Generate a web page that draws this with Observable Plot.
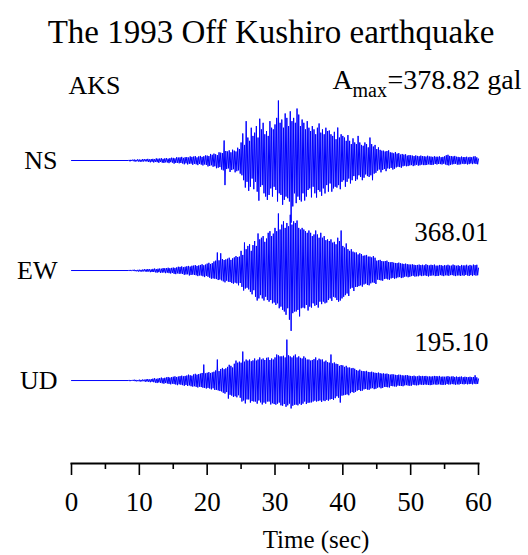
<!DOCTYPE html>
<html>
<head>
<meta charset="utf-8">
<script src="https://cdn.jsdelivr.net/npm/d3@7"></script>
<script src="https://cdn.jsdelivr.net/npm/@observablehq/plot@0.6"></script>
<style>
  html, body { margin: 0; padding: 0; background: #fff; }
  #chart svg { display: block; font-family: 'Liberation Serif', 'Times New Roman', serif; }
</style>
</head>
<body>
<div id="chart"></div>
<script>
// ---- data (accelerations in gal) ----
const title = "The 1993 Off Kushiro earthquake";
const station = "AKS";
const channelNames = ["NS", "EW", "UD"];
const peakLabels = ["378.82", "368.01", "195.10"];
const xTicks = [0, 10, 20, 30, 40, 50, 60];
const xMinorTicks = [5, 15, 25, 35, 45, 55];
const xLabel = "Time (sec)";
const quietUntil = 8.375;     // trace is flat before the P arrival (sec)
const sampleStart = 8.5;      // first read sample (sec)
const sampleStep = 0.125;     // spacing of read samples (sec)

const nsValues = [
  3, -5, 4, -3,
  5, -4, 6, -7, 4, -5, 7, -6,
  6, -8, 5, -7, 9, -6, 8, -5,
  8, -6, 10, -9, 7, -11, 9, -8,
  10, -12, 8, -9, 13, -10, 11, -14,
  12, -9, 14, -13, 10, -15, 13, -11,
  15, -12, 11, -16, 14, -10, 17, -13,
  16, -19, 13, -15, 20, -14, 18, -17,
  19, -15, 22, -18, 16, -23, 20, -17,
  21, -24, 18, -20, 25, -19, 22, -26,
  24, -20, 27, -23, 19, -28, 25, -21,
  28, -25, 22, -30, 26, -24, 31, -27,
  30, -36, 27, -33, 40, -29, 35, -38,
  42, -35, 38, -47, 33, -44, 50, -40,
  48, -55, 45, -60, 122, -150, 58, -52,
  55, -48, 62, -70, 50, -58, 66, -53,
  60, -72, 55, -65, 78, -60, 70, -80,
  110, -90, 165, -120, 95, -165, 240, -130,
  140, -185, 120, -160, 200, -110, 150, -175,
  170, -130, 210, -190, 140, -245, 255, -160,
  190, -150, 230, -200, 160, -220, 180, -240,
  150, -210, 240, -170, 200, -220, 190, -160,
  220, -180, 260, -250, 366, -200, 230, -210,
  250, -270, 200, -240, 287, -220, 260, -230,
  210, -250, 300, -379, 240, -280, 260, -200,
  230, -260, 317, -220, 280, -240, 210, -250,
  250, -200, 230, -244, 190, -220, 240, -180,
  200, -170, 180, -225, 210, -160, 190, -200,
  160, -226, 200, -180, 226, -190, 170, -215,
  190, -170, 160, -201, 200, -150, 180, -190,
  183, -140, 160, -190, 150, -170, 175, -160,
  130, -165, 201, -150, 140, -175, 160, -130,
  150, -120, 140, -160, 120, -130, 155, -110,
  120, -140, 100, -120, 135, -95, 110, -125,
  100, -115, 150, -90, 110, -100, 95, -120,
  90, -105, 110, -85, 100, -95, 80, -100,
  140, -90, 100, -120, 85, -80, 95, -75,
  70, -62, 80, -55, 65, -72, 60, -58,
  60, -52, 55, -65, 58, -48, 62, -50,
  50, -45, 48, -55, 44, -50, 52, -42,
  42, -38, 45, -40, 36, -44, 40, -35,
  36, -32, 38, -35, 30, -34, 33, -30,
  32, -28, 30, -34, 27, -30, 31, -26,
  28, -31, 26, -29, 30, -25, 27, -28,
  26, -28, 24, -27, 29, -23, 25, -26,
  24, -27, 22, -25, 26, -21, 23, -24,
  23, -21, 25, -22, 20, -24, 22, -20,
  26, -24, 32, -28, 35, -30, 28, -26,
  27, -24, 25, -22, 28, -20, 23, -25,
  22, -25, 20, -23, 24, -19, 21, -22,
  21, -20, 23, -24, 19, -22, 22, -18,
  20, -22, 24, -18, 26, -21, 19, -23,
  10
];
const ewValues = [
  2, -3, 3, -2,
  4, -3, 5, -4, 3, -5, 4, -6,
  5, -6, 4, -7, 6, -5, 8, -6,
  7, -8, 9, -6, 8, -10, 7, -9,
  10, -9, 12, -11, 9, -13, 11, -10,
  12, -14, 11, -13, 15, -12, 14, -16,
  15, -13, 17, -16, 14, -18, 16, -15,
  18, -20, 16, -22, 19, -17, 23, -20,
  22, -19, 25, -21, 20, -26, 23, -24,
  26, -23, 28, -30, 24, -27, 29, -25,
  30, -27, 33, -29, 28, -34, 31, -30,
  34, -31, 38, -35, 32, -40, 36, -33,
  42, -38, 47, -44, 40, -50, 45, -48,
  55, -50, 60, -52, 110, -58, 62, -55,
  105, -60, 70, -66, 64, -72, 68, -62,
  72, -68, 78, -70, 65, -76, 74, -80,
  80, -74, 88, -78, 82, -90, 85, -76,
  120, -100, 95, -122, 171, -110, 130, -105,
  150, -115, 160, -130, 120, -145, 155, -120,
  180, -160, 150, -183, 226, -170, 190, -150,
  200, -170, 210, -183, 175, -160, 195, -180,
  230, -190, 240, -180, 210, -200, 225, -195,
  260, -210, 240, -200, 348, -230, 250, -220,
  280, -240, 300, -250, 260, -270, 290, -230,
  270, -300, 340, -368, 280, -260, 300, -250,
  290, -250, 305, -240, 260, -280, 250, -230,
  260, -226, 250, -230, 240, -210, 230, -244,
  244, -220, 230, -226, 210, -200, 220, -215,
  244, -210, 220, -226, 200, -190, 230, -205,
  200, -190, 210, -200, 185, -195, 190, -180,
  180, -170, 190, -185, 170, -160, 175, -165,
  160, -180, 200, -190, 180, -183, 244, -170,
  150, -160, 140, -150, 165, -140, 130, -155,
  120, -110, 130, -105, 115, -125, 110, -100,
  110, -100, 98, -95, 105, -90, 100, -98,
  90, -85, 92, -80, 95, -88, 85, -90,
  85, -78, 80, -72, 88, -75, 78, -82,
  60, -55, 62, -58, 65, -60, 58, -62,
  55, -52, 58, -50, 60, -54, 52, -56,
  50, -48, 52, -45, 48, -50, 46, -47,
  45, -42, 48, -40, 44, -46, 42, -43,
  40, -38, 42, -36, 39, -41, 37, -38,
  36, -34, 38, -32, 35, -37, 33, -35,
  34, -35, 36, -30, 33, -34, 35, -31,
  32, -30, 38, -33, 34, -36, 31, -32,
  35, -31, 33, -29, 36, -34, 30, -33,
  30, -32, 34, -28, 33, -31, 29, -34,
  33, -29, 31, -30, 35, -32, 30, -28,
  30, -28, 36, -31, 32, -34, 29, -30,
  32, -30, 28, -33, 34, -29, 31, -32,
  31, -27, 35, -30, 29, -33, 34, -28,
  30, -32, 36, -28, 33, -31, 35, -29,
  15
];
const udValues = [
  2, -3, 2, -2,
  3, -2, 4, -3, 3, -4, 2, -3,
  4, -5, 3, -4, 5, -3, 4, -6,
  6, -5, 7, -6, 5, -8, 7, -6,
  9, -8, 11, -10, 8, -12, 10, -9,
  12, -11, 14, -13, 11, -15, 13, -12,
  15, -14, 17, -16, 14, -18, 16, -15,
  18, -17, 20, -19, 17, -22, 19, -18,
  21, -20, 23, -22, 20, -25, 22, -21,
  24, -26, 28, -23, 25, -27, 23, -29,
  29, -27, 32, -30, 28, -33, 31, -29,
  33, -31, 36, -34, 76, -35, 34, -38,
  37, -35, 40, -38, 36, -42, 39, -37,
  42, -45, 48, -44, 100, -47, 45, -50,
  55, -52, 60, -58, 54, -62, 58, -55,
  65, -86, 75, -68, 70, -72, 62, -78,
  80, -75, 95, -80, 85, -70, 90, -82,
  85, -100, 138, -95, 90, -109, 100, -90,
  95, -90, 100, -105, 92, -98, 96, -100,
  105, -100, 95, -110, 100, -95, 110, -104,
  100, -114, 105, -105, 98, -110, 108, -100,
  110, -100, 98, -114, 105, -108, 100, -112,
  110, -115, 124, -110, 120, -105, 115, -118,
  115, -120, 118, -112, 110, -125, 195, -118,
  120, -110, 115, -133, 110, -120, 118, -115,
  124, -115, 110, -118, 115, -110, 108, -116,
  105, -110, 115, -100, 108, -112, 100, -106,
  100, -105, 95, -104, 98, -100, 102, -96,
  110, -100, 96, -98, 104, -95, 100, -102,
  100, -95, 90, -98, 95, -92, 88, -96,
  85, -90, 124, -88, 82, -92, 86, -84,
  80, -75, 78, -82, 70, -105, 74, -72,
  72, -70, 65, -68, 70, -66, 62, -70,
  62, -60, 58, -55, 60, -58, 56, -54,
  50, -48, 47, -45, 52, -50, 46, -48,
  45, -42, 44, -40, 46, -43, 41, -44,
  40, -38, 42, -36, 39, -41, 37, -39,
  36, -34, 38, -32, 35, -37, 33, -35,
  34, -30, 32, -31, 33, -32, 30, -33,
  28, -26, 30, -27, 29, -28, 27, -29,
  26, -24, 28, -25, 27, -26, 25, -27,
  24, -23, 25, -22, 26, -24, 23, -25,
  22, -24, 21, -20, 23, -22, 20, -23,
  20, -22, 23, -19, 21, -20, 22, -21,
  21, -19, 22, -20, 19, -21, 20, -22,
  19, -21, 20, -18, 22, -19, 21, -20,
  20, -18, 22, -19, 18, -21, 19, -20,
  18, -20, 19, -17, 21, -19, 18, -18,
  19, -17, 20, -18, 17, -20, 19, -18,
  17, -19, 18, -16, 19, -17, 16, -18,
  18, -16, 17, -18, 16, -17, 18, -16,
  16, -18, 17, -15, 25, -17, 15, -16,
  8
];

// ---- display settings ----
const traceSpacing = 671;               // vertical separation between traces (display units)
const channelGain = [1, 1, 1.28];       // UD trace drawn with a larger gain, as in the figure
const channelSeries = [nsValues, ewValues, udValues];

const rows = [];
channelNames.forEach((name, c) => {
  const base = -c * traceSpacing;
  rows.push({channel: name, t: 0, y: base});
  rows.push({channel: name, t: quietUntil, y: base});
  channelSeries[c].forEach((v, i) => {
    rows.push({channel: name, t: Math.min(60, sampleStart + i * sampleStep), y: base + v * channelGain[c]});
  });
});
const labelRows = channelNames.map((name, c) => ({channel: name, t: 0, y: -c * traceSpacing}));
const peakRows = channelNames.map((name, c) => ({label: peakLabels[c], t: 60, y: -c * traceSpacing})).slice(1);
const amaxRow = [{t: 60, y: 0}];

const serif = "Liberation Serif";

const chart = Plot.plot({
  width: 528,
  height: 555,
  marginLeft: 71,
  marginRight: 50,
  marginTop: 50,
  marginBottom: 92,
  style: {fontFamily: serif, fontSize: "26px", color: "#000", background: "#fff", overflow: "visible"},
  x: {domain: [0, 60]},
  y: {domain: [-1848, 671], axis: null},
  marks: [
    Plot.frame({anchor: "bottom", stroke: "#000", strokeWidth: 2}),
    Plot.axisX({ticks: xTicks, tickSize: 12, tickPadding: 16, tickFormat: d => String(d), label: null, fontSize: 27, fontFamily: serif, strokeWidth: 1.6}),
    Plot.axisX({ticks: xMinorTicks, tickSize: 6, tickFormat: () => "", label: null, strokeWidth: 1.6}),
    Plot.line(rows, {x: "t", y: "y", z: "channel", stroke: "#0000ff", strokeWidth: 1}),
    Plot.text(labelRows, {x: "t", y: "y", text: "channel", textAnchor: "end", dx: -14, fontSize: 26, fontFamily: serif}),
    Plot.text(peakRows, {x: "t", y: "y", text: "label", textAnchor: "end", dx: 10, dy: -38, fontSize: 27, fontFamily: serif}),
    Plot.text(amaxRow, {x: "t", y: "y", text: () => "A", textAnchor: "start", dx: -146, dy: -80, fontSize: 28, fontFamily: serif}),
    Plot.text(amaxRow, {x: "t", y: "y", text: () => "max", textAnchor: "start", dx: -126, dy: -70, fontSize: 20, fontFamily: serif}),
    Plot.text(amaxRow, {x: "t", y: "y", text: () => "=" + peakLabels[0] + " gal", textAnchor: "start", dx: -91, dy: -80, fontSize: 28, fontFamily: serif}),
    Plot.text([title], {frameAnchor: "top", lineAnchor: "middle", dx: -4, dy: -18, fontSize: 33, fontFamily: serif}),
    Plot.text([station], {frameAnchor: "top-left", lineAnchor: "middle", textAnchor: "start", dx: -3, dy: 35, fontSize: 26, fontFamily: serif}),
    Plot.text([xLabel], {frameAnchor: "bottom", lineAnchor: "middle", dx: 41, dy: 76, fontSize: 25, fontFamily: serif})
  ]
});
document.getElementById("chart").appendChild(chart);
</script>
</body>
</html>
